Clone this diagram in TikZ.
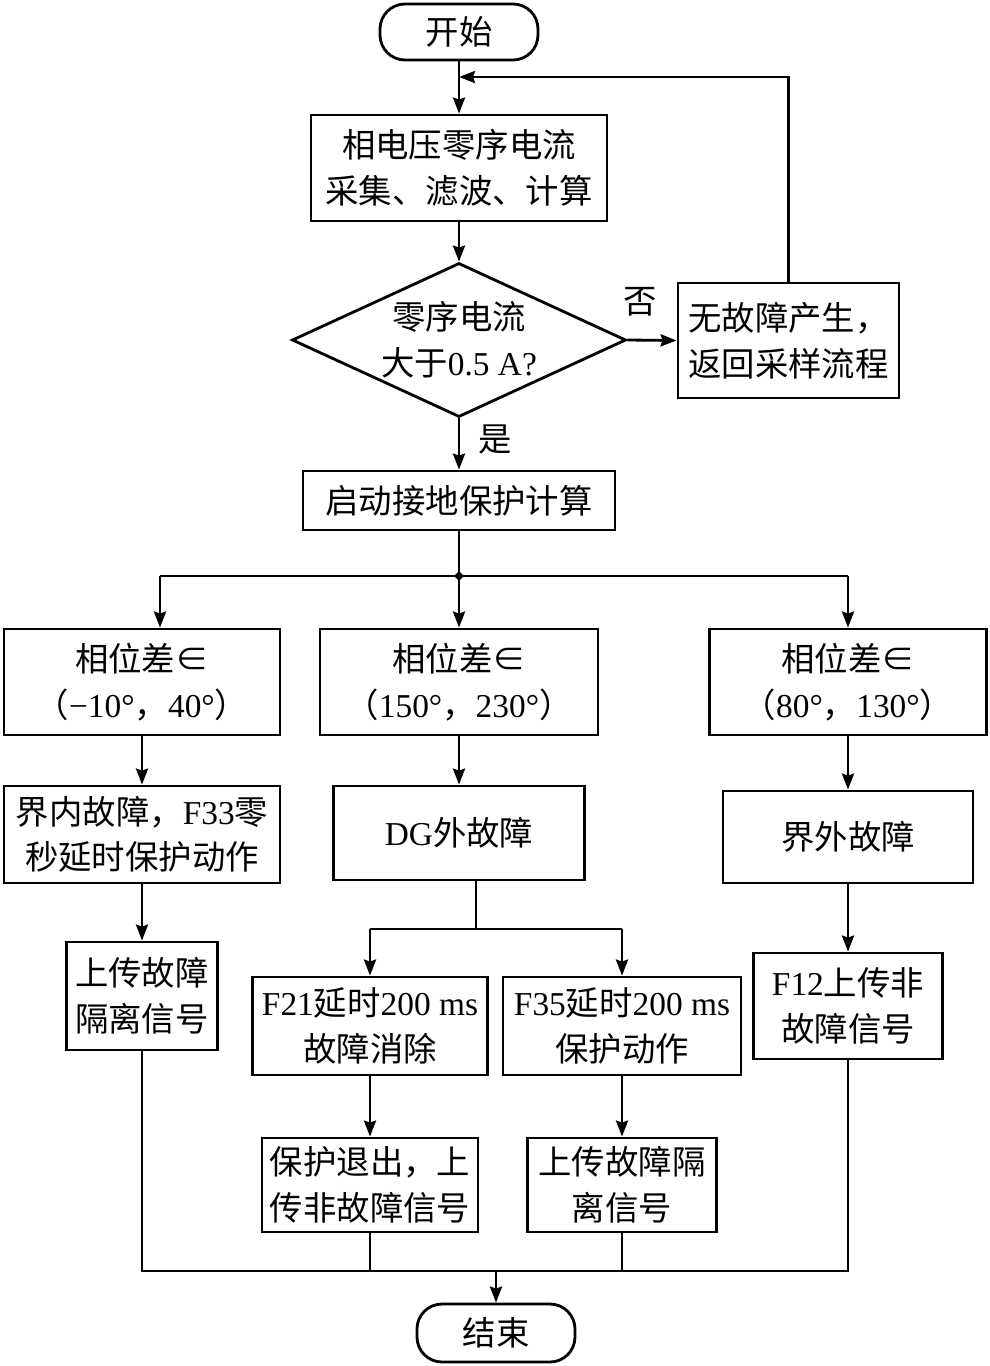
\documentclass[tikz,border=0pt]{standalone}
\usepackage{fontspec}
\setmainfont{Noto Sans CJK SC}
\newfontfamily\lat{Liberation Serif}
\newcommand\lt[1]{{\lat #1}}
\usetikzlibrary{arrows.meta,shapes.geometric}
\begin{document}
\begin{tikzpicture}[x=0.02cm,y=-0.02cm,
  every node/.style={font=\fontsize{19}{26}\selectfont},
  box/.style 2 args={draw, line width=1.6pt, minimum width=#1*0.02cm, minimum height=#2*0.02cm, inner sep=0pt, align=center},
  pill/.style 2 args={box={#1}{#2}, rounded corners=0.5cm},
  dia/.style 2 args={draw, diamond, line width=1.6pt, minimum width=#1*0.02cm, minimum height=#2*0.02cm, inner sep=0pt},
  junc/.style={diamond, fill=black, minimum size=0.2cm, inner sep=0pt},
  ln/.style={line width=1.6pt},
  arr/.style={line width=1.6pt, -{Stealth[length=0.32cm,width=0.24cm,inset=0.04cm]}},
  lbl/.style={inner sep=0pt}]
\useasboundingbox (0,0) rectangle (990,1366);
% nodes
\node[pill={158}{56}] (start) at (459,32) {开始};
\node[box={296}{106}] (b1) at (459,168) {相电压零序电流\\采集、滤波、计算};
\node[dia={334}{154}] (d) at (459,340) {};
\node[align=center] (dt) at (459,340) {零序电流\\大于\lt{0.5 A?}};
\node[box={221}{115}] (no) at (788.5,340.5) {无故障产生，\\返回采样流程};
\node[box={312}{59}] (calc) at (459,500.5) {启动接地保护计算};
\node[junc] (J) at (459,576) {};
\node[box={276}{106}] (A1) at (142,682) {相位差∈\\（\lt{−10°}，\lt{40°}）};
\node[box={278}{106}] (B1) at (459,682) {相位差∈\\（\lt{150°}，\lt{230°}）};
\node[box={277}{106}] (C1) at (848,682) {相位差∈\\（\lt{80°}，\lt{130°}）};
\node[box={276}{97}] (A2) at (142,834.5) {界内故障，\lt{F33}零\\秒延时保护动作};
\node[box={251}{94}] (B2) at (459,833) {\lt{DG}外故障};
\node[box={250}{92}] (C2) at (848,837) {界外故障};
\node[box={151}{108}] (A3) at (142,996) {上传故障\\隔离信号};
\node[box={235}{98}] (B3) at (370,1026) {\lt{F21}延时\lt{200 ms}\\故障消除};
\node[box={238}{98}] (B4) at (622,1026) {\lt{F35}延时\lt{200 ms}\\保护动作};
\node[box={189}{106}] (C3) at (848,1006) {\lt{F12}上传非\\故障信号};
\node[box={216}{94}] (B5) at (370,1185) {保护退出，上\\传非故障信号};
\node[box={189}{94}] (B6) at (622,1185) {上传故障隔\\离信号};
\node[pill={158}{58}] (end) at (496,1333) {结束};
% labels
\node[lbl] (lno) at (640,302) {否};
\node[lbl] (lyes) at (495,440) {是};
% coordinates
\coordinate (loopin) at (459,77);
\coordinate (jl) at (160,576);
\coordinate (jr) at (848,576);
\coordinate (b2o) at (476,880);
\coordinate (b2j) at (476,929);
\coordinate (sl) at (370,929);
\coordinate (sr) at (622,929);
\coordinate (bl) at (142,1271);
\coordinate (br) at (848,1271);
\coordinate (bm) at (496,1271);
% connectors
\draw[arr] (start) -- (b1);
\draw[arr] (no.north) |- (loopin);
\draw[arr] (b1) -- (d);
\draw[arr] (d.east) -- (no.west);
\draw[arr] (d.south) -- (calc.north);
\draw[ln] (calc.south) -- (J.center);
\draw[ln] (jl) -- (jr);
\draw[arr] (jl) -- (jl |- A1.north);
\draw[arr] (J.center) -- (B1.north);
\draw[arr] (jr) -- (C1.north);
\draw[arr] (A1) -- (A2);
\draw[arr] (A2) -- (A3);
\draw[arr] (B1) -- (B2);
\draw[ln] (b2o) -- (b2j);
\draw[ln] (sl) -- (sr);
\draw[arr] (sl) -- (B3.north);
\draw[arr] (sr) -- (B4.north);
\draw[arr] (B3) -- (B5);
\draw[arr] (B4) -- (B6);
\draw[arr] (C1) -- (C2);
\draw[arr] (C2) -- (C3);
\draw[ln] (A3.south) -- (bl) -- (br) -- (C3.south);
\draw[ln] (B5.south) -- (B5.south |- bl);
\draw[ln] (B6.south) -- (B6.south |- bl);
\draw[arr] (bm) -- (end.north);
\end{tikzpicture}
\end{document}
